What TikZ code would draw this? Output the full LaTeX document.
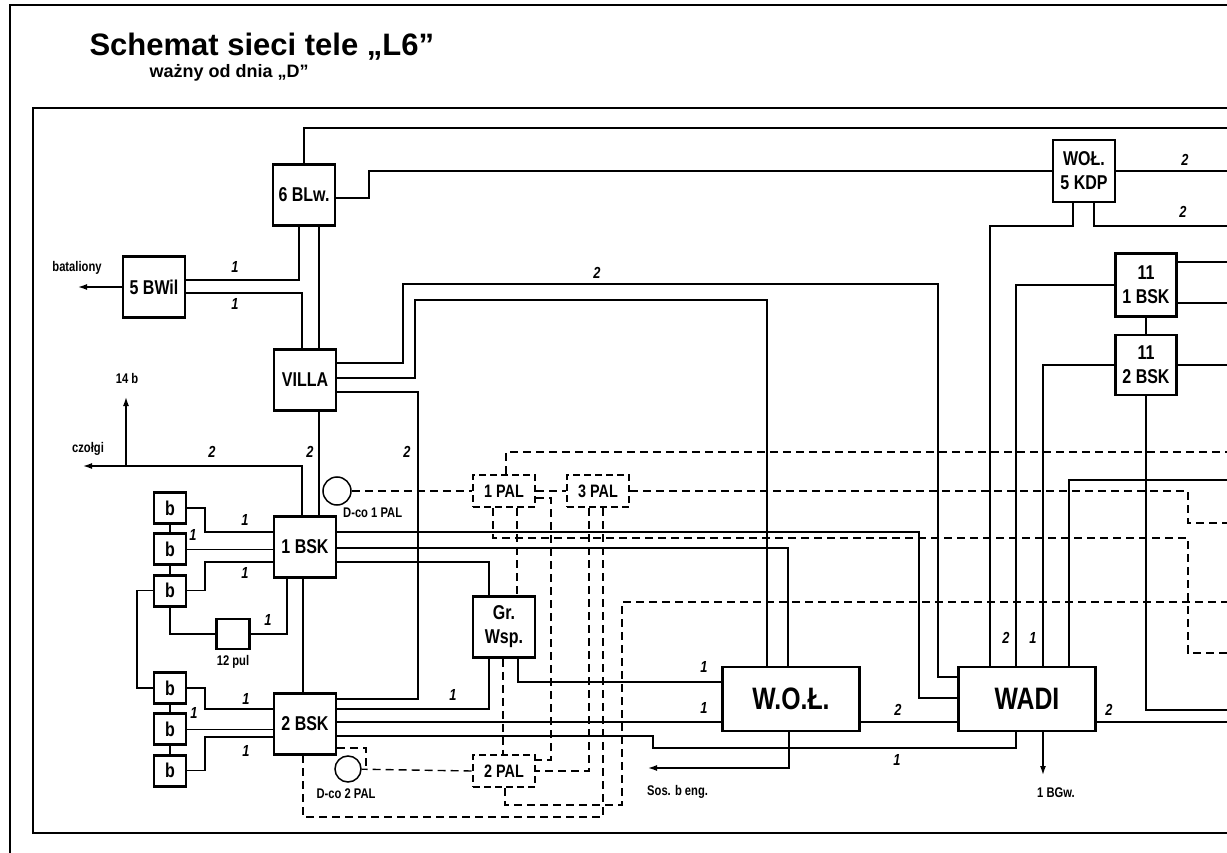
\documentclass[tikz,border=0pt]{standalone}
\usepackage{fontspec}
\setmainfont{Liberation Sans}
\newfontfamily\condfont[FakeStretch=0.8]{Liberation Sans}
\usetikzlibrary{positioning, arrows.meta}

\begin{document}
\begin{tikzpicture}[
    % one unit is one pixel of the sheet, y runs downwards
    x=1pt, y=-1pt,
    node distance=7.5pt,
    % framed units of the network
    box/.style={
        rectangle,
        draw,
        line width=2.8pt,
        inner sep=0pt,
        minimum width=62pt,
        minimum height=61pt,
        align=center,
        font=\condfont\bfseries\fontsize{20}{24}\selectfont
    },
    smallbox/.style={box, minimum width=32pt, minimum height=31pt},
    bigbox/.style={box, minimum width=137pt, minimum height=64pt,
        font=\condfont\bfseries\fontsize{31}{32}\selectfont},
    % dashed boxes for the PAL posts
    palbox/.style={box, dash pattern=on 7pt off 4pt, minimum height=32pt,
        font=\condfont\bfseries\fontsize{18}{18}\selectfont},
    post/.style={circle, draw, line width=1.5pt, minimum size=28pt, inner sep=0pt},
    % lines
    wire/.style={line width=1.4pt},
    dwire/.style={line width=1.4pt, dash pattern=on 8pt off 5pt},
    arrow/.style={wire, -{Latex[length=9pt, width=6pt]}},
    num/.style={font=\condfont\bfseries\itshape\fontsize{16}{16}\selectfont, inner sep=1pt},
    note/.style={font=\condfont\bfseries\fontsize{14}{14}\selectfont, inner sep=1pt}
]
\useasboundingbox (0,0) rectangle (1227,853);

% ==============================
% Frames and title
% ==============================
\draw[line width=2pt] (10,853) -- (10,5) -- (1227,5);
\draw[line width=2pt] (1227,108) -- (33,108) -- (33,833) -- (1227,833);

\node[anchor=base west, font=\bfseries\fontsize{31}{33}\selectfont] (title) at (86,56)
    {Schemat sieci tele „L6”};
\node[anchor=base west, font=\bfseries\fontsize{18}{20}\selectfont] (subtitle) at (146,78)
    {ważny od dnia „D”};

% ==============================
% Left column
% ==============================
\node[box] (blw) at (304,195) {6 BLw.};
\node[box] (bwil) at (154,287) {5 BWil};
\node[box] (villa) at (305,380) {VILLA};
\node[box] (bsk1) at (305,547) {1 BSK};
\node[box] (bsk2) at (305,724) {2 BSK};

\node[smallbox] (b1) at (170,508) {b};
\node[smallbox, below=of b1] (b2) {b};
\node[smallbox, below=of b2] (b3) {b};
\node[smallbox] (b4) at (170,688) {b};
\node[smallbox, below=of b4] (b5) {b};
\node[smallbox, below=of b5] (b6) {b};

\node[box, minimum width=33pt, minimum height=30pt] (pul) at (233,634) {};
\node[note, below=4pt of pul] (pul-l) {12 pul};

% ==============================
% Middle
% ==============================
\node[box] (grwsp) at (504,627) {Gr.\\Wsp.};
\node[palbox] (pal1) at (504,491) {1 PAL};
\node[palbox] (pal3) at (598,491) {3 PAL};
\node[palbox] (pal2) at (504,771) {2 PAL};

\node[post] (dco1) at (337,491) {};
\node[post, minimum size=26pt] (dco2) at (348,769) {};
\node[note, anchor=west] (dco1-l) at (342,513) {D-co 1 PAL};
\node[note] (dco2-l) at (346,794) {D-co 2 PAL};

\node[bigbox] (wol) at (791,699) {W.O.Ł.};
\node[bigbox] (wadi) at (1027,699) {WADI};

% ==============================
% Right column
% ==============================
\node[box, minimum height=62pt] (kdp) at (1084,171) {WOŁ.\\5 KDP};
\node[box, minimum width=61pt, minimum height=63pt] (bsk11a) at (1146,285) {11\\1 BSK};
\node[box, minimum width=61pt, minimum height=60pt] (bsk11b) at (1146,365) {11\\2 BSK};

% ==============================
% Free ends
% ==============================
\coordinate (redge) at (1227,0);
\coordinate (bat) at (78,287);
\coordinate (tanks) at (83,466);
\coordinate (fork) at (126,466);
\coordinate (b14) at (126,397);
\coordinate (sos) at (648,768);
\coordinate (bgw) at (1043,775);

\node[note] (bat-l) at (77,268) {bataliony};
\node[note] (b14-l) at (127,378) {14 b};
\node[note] (tanks-l) at (88,449) {czołgi};
\node[note, anchor=west] (sos-l) at (646,792) {Sos. b eng.};
\node[note, anchor=west] (bgw-l) at (1036,793) {1 BGw.};

% ==============================
% Solid lines
% ==============================
\draw[wire] (blw.north) |- (redge |- 0,128);
\draw[wire] (blw.east |- 0,198) -| (369,171) -- (kdp.west);
\draw[arrow] (bwil.west) -- (bat);
\draw[wire] (bwil.east |- 0,280) -| ([xshift=-5pt]blw.south);
\draw[wire] (bwil.east |- 0,293) -| ([xshift=-3pt]villa.north);
\draw[wire] ([xshift=15pt]blw.south) -- ([xshift=14pt]villa.north);

\draw[wire] (villa.east |- 0,363) -| (403,284) -| (938,677) -- (wadi.west |- 0,677);
\draw[wire] (villa.east |- 0,378) -| (415,300) -| ([xshift=-24pt]wol.north);
\draw[wire] (villa.east |- 0,392) -| (418,699) -- (bsk2.east |- 0,699);
\draw[wire] ([xshift=14pt]villa.south) -- ([xshift=14pt]bsk1.north);

\draw[arrow] ([xshift=-3pt]bsk1.north) |- (tanks);
\draw[arrow] (fork) -- (b14);
\draw[wire] (b1.east) -| (205,532) -- (bsk1.west |- 0,532);
\draw[wire] (b2.east) -- (b2.east -| bsk1.west);
\draw[wire] (b3.east) -| (205,562) -- (bsk1.west |- 0,562);
\draw[wire] (b1) -- (b2) (b2) -- (b3);
\draw[wire] (b3.south) |- (pul.west);
\draw[wire] (pul.east) -| ([xshift=-18pt]bsk1.south);
\draw[wire] (b3.west) -| (137,688) -- (b4.west);
\draw[wire] ([xshift=-2pt]bsk1.south) -- ([xshift=-2pt]bsk2.north);
\draw[wire] (bsk1.east |- 0,532) -| (919,698) -- (wadi.west |- 0,698);
\draw[wire] (bsk1.east |- 0,548) -| ([xshift=-3pt]wol.north);
\draw[wire] (bsk1.east |- 0,562) -| ([xshift=-15pt]grwsp.north);

\draw[wire] (b4.east) -| (205,709) -- (bsk2.west |- 0,709);
\draw[wire] (b5.east) -- (b5.east -| bsk2.west);
\draw[wire] (b6.east) -| (205,737) -- (bsk2.west |- 0,737);
\draw[wire] (b4) -- (b5) (b5) -- (b6);
\draw[wire] ([xshift=-15pt]grwsp.south) |- (bsk2.east |- 0,709);
\draw[wire] ([xshift=14pt]grwsp.south) |- (wol.west |- 0,682);
\draw[wire] (bsk2.east |- 0,722) -- (wol.west |- 0,722);
\draw[wire] (bsk2.east |- 0,736) -| (653,748) -| ([xshift=-11pt]wadi.south);
\draw[wire] (wol.east |- 0,722) -- (wadi.west |- 0,722);
\draw[arrow] ([xshift=-2pt]wol.south) |- (sos);
\draw[arrow] ([xshift=16pt]wadi.south) -- (bgw);
\draw[wire] (wadi.east |- 0,722) -- (redge |- 0,722);

\draw[wire] (kdp.east) -- (redge |- kdp.east);
\draw[wire] ([xshift=-11pt]kdp.south) |- (990,226) -- ([xshift=-37pt]wadi.north);
\draw[wire] ([xshift=10pt]kdp.south) |- (redge |- 0,226);
\draw[wire] (bsk11a.west) -| ([xshift=-11pt]wadi.north);
\draw[wire] (bsk11a.east |- 0,262) -- (redge |- 0,262);
\draw[wire] (bsk11a.east |- 0,303) -- (redge |- 0,303);
\draw[wire] (bsk11a) -- (bsk11b);
\draw[wire] (bsk11b.west) -| ([xshift=16pt]wadi.north);
\draw[wire] (bsk11b.east) -- (redge |- bsk11b.east);
\draw[wire] (bsk11b.south) |- (redge |- 0,710);
\draw[wire] ([xshift=42pt]wadi.north) |- (redge |- 0,480);

% ==============================
% Dashed lines
% ==============================
\draw[dwire] (dco1) -- (pal1);
\draw[dwire] (pal1) -- (pal3);
\draw[dwire] (pal1.east |- 0,498) -| (551,760) -- (pal2.east |- 0,760);
\draw[dwire] (pal3.east) -| (1188,523) -- (redge |- 0,523);
\draw[dwire] ([xshift=2pt]pal1.north) |- (redge |- 0,452);
\draw[dwire] ([xshift=-11pt]pal1.south) |- (1188,538) |- (redge |- 0,653);
\draw[dwire] ([xshift=13pt]pal1.south) -- ([xshift=13pt]grwsp.north);
\draw[dwire] ([xshift=-9pt]pal3.south) |- (pal2.east |- 0,771);
\draw[dwire] ([xshift=5pt]pal3.south) |- (303,817) -- ([xshift=-2pt]bsk2.south);
\draw[dwire] ([xshift=-1pt]grwsp.south) -- ([xshift=-1pt]pal2.north);
\draw[dwire] (pal2.west) -- (dco2);
\draw[dwire] (bsk2.east |- 0,748) -| (366,769);
\draw[dwire] ([xshift=1pt]pal2.south) |- (622,805) |- (redge |- 0,602);

% ==============================
% Line counts
% ==============================
\node[num] (n1) at (235,267) {1};
\node[num] (n2) at (235,304) {1};
\node[num] (n3) at (597,273) {2};
\node[num] (n4) at (212,452) {2};
\node[num] (n5) at (310,452) {2};
\node[num] (n6) at (407,452) {2};
\node[num] (n7) at (245,520) {1};
\node[num] (n8) at (193,535) {1};
\node[num] (n9) at (245,573) {1};
\node[num] (n10) at (268,620) {1};
\node[num] (n11) at (246,699) {1};
\node[num] (n12) at (194,713) {1};
\node[num] (n13) at (246,751) {1};
\node[num] (n14) at (453,695) {1};
\node[num] (n15) at (704,667) {1};
\node[num] (n16) at (704,708) {1};
\node[num] (n17) at (898,710) {2};
\node[num] (n18) at (897,760) {1};
\node[num] (n19) at (1006,638) {2};
\node[num] (n20) at (1033,638) {1};
\node[num] (n21) at (1109,710) {2};
\node[num] (n22) at (1185,160) {2};
\node[num] (n23) at (1183,212) {2};

\end{tikzpicture}
\end{document}
